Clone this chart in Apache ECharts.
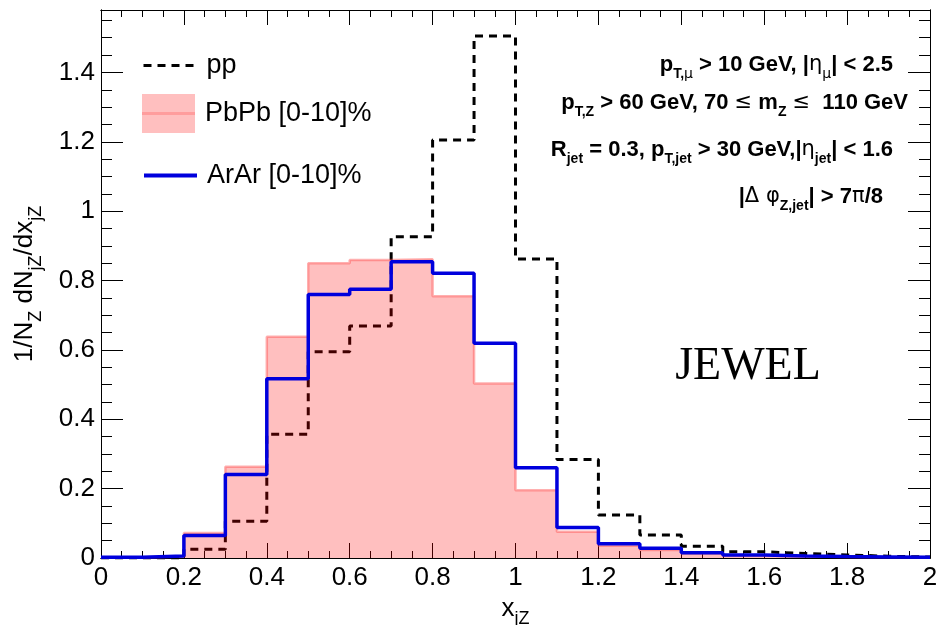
<!DOCTYPE html>
<html>
<head>
<meta charset="utf-8">
<script src="https://cdn.jsdelivr.net/npm/echarts@6/dist/echarts.min.js"></script>
<style>
  html, body { margin: 0; padding: 0; background: #ffffff; }
  #chart { width: 937px; height: 625px; }
</style>
</head>
<body>
<div id="chart"></div>
<script>
// Bin edges of the x_jZ histograms (20 bins of width 0.1)
const binEdges = [0, 0.1, 0.2, 0.3, 0.4, 0.5, 0.6, 0.7, 0.8, 0.9, 1.0,
                  1.1, 1.2, 1.3, 1.4, 1.5, 1.6, 1.7, 1.8, 1.9, 2.0];

// Normalised per-bin yields 1/N_Z dN_jZ/dx_jZ
const ppValues   = [0, 0, 0.025, 0.106, 0.357, 0.595, 0.669, 0.926, 1.205, 1.505,
                    0.862, 0.284, 0.124, 0.066, 0.034, 0.018, 0.013, 0.009, 0.005, 0.003];
const pbpbValues = [0.001, 0.005, 0.072, 0.263, 0.638, 0.850, 0.859, 0.861, 0.755, 0.503,
                    0.195, 0.076, 0.035, 0.023, 0.013, 0.007, 0.004, 0.003, 0.002, 0.001];
const ararValues = [0.002, 0.006, 0.065, 0.241, 0.517, 0.760, 0.775, 0.854, 0.821, 0.619,
                    0.260, 0.088, 0.041, 0.028, 0.015, 0.009, 0.006, 0.004, 0.003, 0.002];

const seriesNames = ['pp', 'PbPb [0-10]%', 'ArAr [0-10]%'];

// Axis ranges and tick spacing
const xRange = [0, 2];
const yRange = [0, 1.58];
const xMajorStep = 0.2, xMinorStep = 0.05;
const yMajorStep = 0.2, yMinorStep = 0.05;

const FONT = 'Liberation Sans, Arial, Helvetica, sans-serif';

// Turn bin contents into step-line vertices (left edge of every bin, closing right edge)
function histPoints(values) {
  const pts = values.map((v, i) => [binEdges[i], v]);
  pts.push([binEdges[values.length], values[values.length - 1]]);
  return pts;
}

function frameAxis(kind, position, step, tickLen, withLabels, range) {
  const ax = {
    type: 'value',
    position: position,
    min: range[0],
    max: range[1],
    interval: step,
    splitLine: { show: false },
    axisLine: { show: true, onZero: false, lineStyle: { color: '#000', width: 1 } },
    axisTick: { show: true, inside: true, length: tickLen, lineStyle: { color: '#000', width: 1 } },
    axisLabel: { show: false }
  };
  if (withLabels) {
    ax.axisLabel = {
      show: true,
      color: '#000',
      fontFamily: FONT,
      fontSize: 26,
      margin: kind === 'x' ? 7 : 6,
      showMaxLabel: kind === 'x'
    };
  }
  return ax;
}

const xAxes = [
  Object.assign(frameAxis('x', 'bottom', xMajorStep, 15, true, xRange), {
    name: '{m|x}{s|jZ}',
    nameLocation: 'middle',
    nameGap: 28,
    nameTextStyle: {
      color: '#000',
      rich: {
        m: { fontFamily: FONT, fontSize: 26, color: '#000' },
        s: { fontFamily: FONT, fontSize: 18, color: '#000', padding: [20, 0, 0, 0] }
      }
    }
  }),
  frameAxis('x', 'bottom', xMinorStep, 7, false, xRange),
  frameAxis('x', 'top', xMajorStep, 15, false, xRange),
  frameAxis('x', 'top', xMinorStep, 7, false, xRange)
];

const yAxes = [
  Object.assign(frameAxis('y', 'left', yMajorStep, 22, true, yRange), {
    name: '{m|1/N}{s|Z}{m| dN}{s|jZ}{m|/dx}{s|jZ}',
    nameLocation: 'middle',
    nameRotate: 90,
    nameGap: 56,
    nameTextStyle: {
      color: '#000',
      rich: {
        m: { fontFamily: FONT, fontSize: 26, color: '#000' },
        s: { fontFamily: FONT, fontSize: 18, color: '#000', padding: [22, 0, 0, 0] }
      }
    }
  }),
  frameAxis('y', 'left', yMinorStep, 11, false, yRange),
  frameAxis('y', 'right', yMajorStep, 22, false, yRange),
  frameAxis('y', 'right', yMinorStep, 11, false, yRange)
];

// Right-hand selection cuts, written with sub-scripts
const cutStyle = {
  m: { fontFamily: FONT, fontSize: 22, fontWeight: 'bold', fill: '#000' },
  g: { fontFamily: 'DejaVu Sans, ' + FONT, fontSize: 21, fontWeight: 'normal', fill: '#000' },
  s: { fontFamily: FONT, fontSize: 14, fontWeight: 'bold', fill: '#000', padding: [19, 0, 0, 0] },
  sg: { fontFamily: 'DejaVu Sans, ' + FONT, fontSize: 14, fontWeight: 'normal', fill: '#000', padding: [19, 0, 0, 0] }
};
const cutLines = [
  { text: '{m|p}{s|T,}{sg|μ}{m| > 10 GeV, |}{g|η}{sg|μ}{m|| < 2.5}', x: 893, y: 65 },
  { text: '{m|p}{s|T,Z}{m| > 60 GeV, 70 }{g|≤}{m| m}{s|Z}{m| }{g|≤}{m|  110 GeV}', x: 908, y: 103 },
  { text: '{m|R}{s|jet}{m| = 0.3, p}{s|T,jet}{m| > 30 GeV,|}{g|η}{s|jet}{m|| < 1.6}', x: 893, y: 150 },
  { text: '{m||}{g|Δ φ}{s|Z,jet}{m|| > 7}{g|π}{m|/8}', x: 883, y: 197 }
];

const graphics = cutLines.map(l => ({
  type: 'text',
  x: l.x,
  y: l.y,
  style: {
    text: l.text,
    rich: cutStyle,
    align: 'right',
    verticalAlign: 'middle',
    lineHeight: 26,
    fontFamily: FONT,
    fontSize: 22
  },
  z: 10
}));

graphics.push({
  type: 'text',
  x: 748,
  y: 367,
  style: {
    text: 'JEWEL',
    fontFamily: 'Liberation Serif, Times New Roman, serif',
    fontSize: 46,
    fill: '#000',
    align: 'center',
    verticalAlign: 'middle'
  },
  z: 10
});

// centre stroke of the PbPb legend box
graphics.push({
  type: 'line',
  shape: { x1: 142, y1: 113.5, x2: 195, y2: 113.5 },
  style: { stroke: '#ff9d9d', lineWidth: 3 },
  z: 10
});

const legendText = { fontFamily: FONT, fontSize: 27, color: '#000', padding: [0, 0, 0, 5] };

const option = {
  animation: false,
  backgroundColor: '#ffffff',
  grid: { left: 101, right: 7, top: 10, bottom: 67, containLabel: false, outerBoundsMode: 'none' },
  xAxis: xAxes,
  yAxis: yAxes,
  legend: [
    {
      data: [{ name: seriesNames[0] }],
      left: 142, top: 52, padding: 0, itemWidth: 53, itemHeight: 14,
      itemStyle: { opacity: 0 },
      lineStyle: { width: 3, type: [8, 6], color: '#000' },
      textStyle: legendText, selectedMode: false
    },
    {
      data: [{ name: seriesNames[1], icon: 'rect', itemStyle: { color: 'rgba(255,0,0,0.25)', borderWidth: 0 } }],
      left: 142, top: 94, padding: 0, itemWidth: 53, itemHeight: 39,
      textStyle: legendText, selectedMode: false
    },
    {
      data: [{ name: seriesNames[2] }],
      left: 142, top: 162, padding: 0, itemWidth: 53, itemHeight: 14,
      itemStyle: { opacity: 0 },
      lineStyle: { width: 4, color: '#0000dd' },
      textStyle: legendText, selectedMode: false
    }
  ],
  graphic: graphics,
  series: [
    {
      name: seriesNames[0],
      type: 'line',
      step: 'end',
      symbol: 'none',
      data: histPoints(ppValues),
      lineStyle: { color: '#000000', width: 3, type: [8, 6] },
      itemStyle: { color: '#000000' },
      z: 2
    },
    {
      name: seriesNames[1],
      type: 'line',
      step: 'end',
      symbol: 'none',
      data: histPoints(pbpbValues),
      lineStyle: { color: 'rgba(255,80,80,0.45)', width: 2.5 },
      itemStyle: { color: 'rgba(255,0,0,0.25)' },
      areaStyle: { color: 'rgba(255,0,0,0.25)', opacity: 1 },
      z: 3
    },
    {
      name: seriesNames[2],
      type: 'line',
      step: 'end',
      symbol: 'none',
      data: histPoints(ararValues),
      lineStyle: { color: '#0000dd', width: 3.5 },
      itemStyle: { color: '#0000dd' },
      z: 4
    }
  ]
};

const chart = echarts.init(document.getElementById('chart'), null, { renderer: 'canvas' });
chart.setOption(option);
</script>
</body>
</html>
